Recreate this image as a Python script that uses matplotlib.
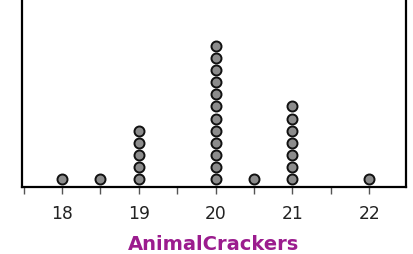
import matplotlib
matplotlib.use("Agg")
import matplotlib.pyplot as plt
import numpy as np

values = [18, 18.5, 19, 20, 20.5, 21, 22]
counts = [1, 1, 5, 12, 1, 7, 1]
tick_labels = ["18", "19", "20", "21", "22"]
xlabel = "AnimalCrackers"

fig = plt.figure(figsize=(4.13, 2.54), dpi=100)
ax = fig.add_axes([22/413, 67/254, (406-22)/413, 187/254 + 0.01])

for v, c in zip(values, counts):
    ys = np.arange(c) + 0.67
    ax.plot([v]*c, ys, 'o', ms=7.2, mfc='#8c8c8c', mec='#111111', mew=1.4, clip_on=False)

ax.set_xlim(17.48, 22.48)
ax.set_ylim(0, 187/12 + 0.12)
ax.set_xticks([18, 19, 20, 21, 22])
ax.set_xticklabels(tick_labels)
ax.set_xticks([17.5, 18.5, 19.5, 20.5, 21.5], minor=True)
ax.set_yticks([])
ax.spines['top'].set_visible(False)
for s in ['left', 'right', 'bottom']:
    ax.spines[s].set_linewidth(1.6)
ax.tick_params(axis='x', which='both', length=5, width=1, colors='#555', labelsize=12.3, labelcolor='#222', pad=8)
ax.set_xlabel(xlabel, color='#9b1c8e', fontsize=14, fontweight='bold')
ax.xaxis.set_label_coords(0.5, -(245 - 187) / 187, transform=None) if False else None
ax.xaxis.label.set_verticalalignment('center')
ax.xaxis.set_label_coords(0.5, -(245 - 187) / (187 + 0.01 * 254))

fig.savefig("out.png", dpi=100)
